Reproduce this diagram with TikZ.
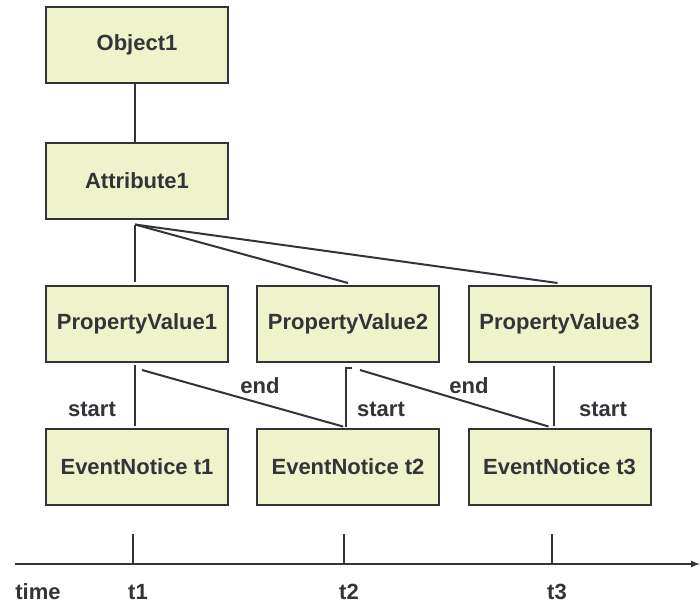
\documentclass[tikz,border=0pt]{standalone}
\usepackage{fontspec}
\setmainfont{Liberation Sans}
\definecolor{boxfill}{RGB}{239,243,204}
\definecolor{ink}{RGB}{51,51,56}
\tikzset{
	box/.style = {draw = ink, fill = boxfill, line width = 2pt, minimum width = 182pt, minimum height = 76pt, inner sep = 0pt},
	link/.style = {draw = ink, line width = 2pt},
	tag/.style = {text = ink, inner sep = 0pt}
}

\begin{document}
\begin{tikzpicture}[> = latex, x = 1pt, y = -1pt, font = \fontsize{22}{26}\selectfont\bfseries]

	\useasboundingbox (0, 0) rectangle (700, 608);

	% Object and attribute

	\node [box, text = ink] (obj1) at (137, 44.5) {Object1};
	\node [box, text = ink] (attr1) at (137, 180.5) {Attribute1};
	\draw [link] ([xshift = -2]obj1.south) -- ([xshift = -2]attr1.north);

	% Property values

	\node [box, text = ink] (pv1) at (137, 324) {PropertyValue1};
	\node [box, text = ink] (pv2) at (348, 324) {PropertyValue2};
	\node [box, text = ink] (pv3) at (559.5, 324) {PropertyValue3};
	\draw [link] ([xshift = -2, yshift = -5]attr1.south) -- ([xshift = -2, yshift = 3]pv1.north);
	\draw [link] ([xshift = -2, yshift = -5]attr1.south) -- ([yshift = 2]pv2.north);
	\draw [link] ([xshift = -2, yshift = -5]attr1.south) -- ([xshift = -2, yshift = 2]pv3.north);

	% Event notices

	\node [box, text = ink] (ev1) at (137, 466.5) {EventNotice t1};
	\node [box, text = ink] (ev2) at (348, 466.5) {EventNotice t2};
	\node [box, text = ink] (ev3) at (559.5, 466.5) {EventNotice t3};

	\draw [link] ([xshift = -2, yshift = -2]pv1.south) -- ([xshift = -2, yshift = 2]ev1.north);
	\draw [link] ([xshift = 4, yshift = -5]pv2.south) -| ([xshift = -2, yshift = 1]ev2.north);
	\draw [link] ([xshift = -6, yshift = -3]pv3.south) -- ([xshift = -6, yshift = 2]ev3.north);
	\draw [link] ([xshift = 5, yshift = -7]pv1.south) -- ([xshift = -5, yshift = 1]ev2.north);
	\draw [link] ([xshift = 12, yshift = -7]pv2.south) -- ([xshift = -11, yshift = 1]ev3.north);

	\node [tag] (start1) at (92, 409) {start};
	\node [tag] (end1) at (260, 386) {end};
	\node [tag] (start2) at (381, 409) {start};
	\node [tag] (end2) at (469, 386) {end};
	\node [tag] (start3) at (603, 409) {start};

	% Time axis

	\coordinate (axis-start) at (15, 564);
	\coordinate (axis-end) at (700, 564);
	\draw [link, ->] (axis-start) -- (axis-end);
	\node [tag] (time-label) at (38, 592) {time};
	\foreach \x/\t in {133/1, 344/2, 552/3} {
		\coordinate (tick\t) at (\x, 564);
		\draw [link] (tick\t) -- ++(0, -30);
		\node [tag] (t\t-label) at (\x + 5, 592) {t\t};
	}

\end{tikzpicture}
\end{document}
